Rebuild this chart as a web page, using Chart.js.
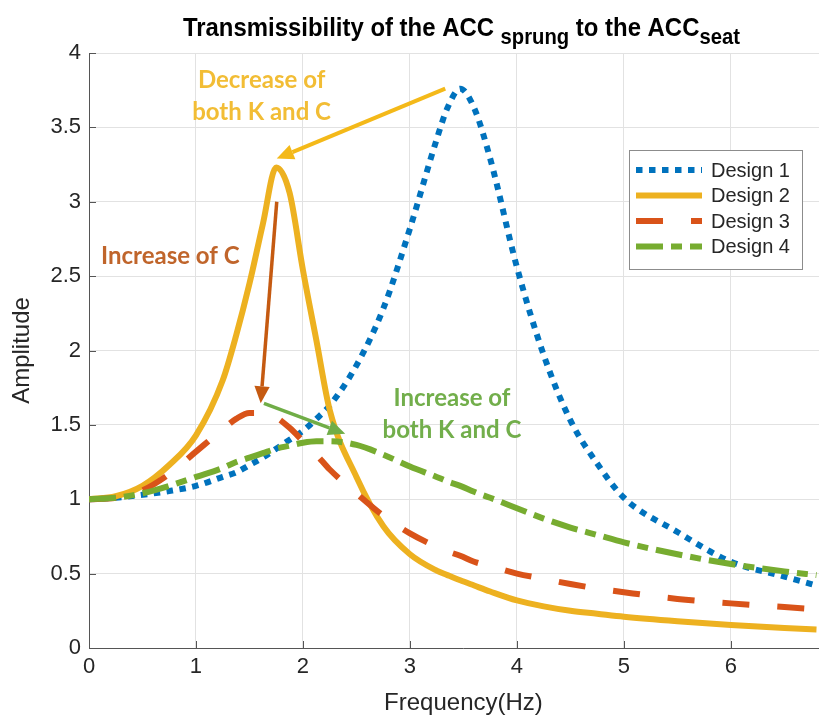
<!DOCTYPE html>
<html>
<head>
<meta charset="utf-8">
<title>Transmissibility</title>
<script src="https://cdn.jsdelivr.net/npm/chart.js@4.4.1/dist/chart.umd.min.js"></script>
<style>
    html, body { margin: 0; padding: 0; background: #fff; overflow: hidden; }
    #wrap { position: relative; width: 819px; height: 720px; overflow: hidden; }
    #chart { display: block; }
</style>
</head>
<body>
<div id="wrap"><canvas id="chart" width="850" height="720" style="width:850px;height:720px"></canvas></div>
<script>
// Frequency samples (Hz) shared by all four designs
const freq = [0, 0.25, 0.5, 0.75, 1, 1.25, 1.375, 1.5, 1.625, 1.75, 1.875, 2, 2.125, 2.25, 2.5, 2.75,
              3, 3.25, 3.35, 3.47, 3.6, 3.75, 4, 4.25, 4.5, 4.75, 5, 5.5, 6, 6.5, 6.8];

// Amplitude ratio, sprung mass acceleration -> seat acceleration
const design1 = [1.00, 1.01, 1.03, 1.055, 1.09, 1.15, 1.18, 1.23, 1.28, 1.34, 1.40, 1.46, 1.54, 1.63, 1.90, 2.28,
                 2.82, 3.42, 3.63, 3.76, 3.63, 3.29, 2.56, 1.97, 1.53, 1.24, 1.01, 0.78, 0.58, 0.48, 0.42];
const design2 = [1.00, 1.02, 1.09, 1.23, 1.43, 1.80, 2.10, 2.45, 2.85, 3.23, 3.06, 2.54, 2.07, 1.60, 1.15, 0.82,
                 0.63, 0.52, 0.49, 0.455, 0.42, 0.38, 0.32, 0.28, 0.25, 0.23, 0.21, 0.18, 0.155, 0.135, 0.125];
const design3 = [1.00, 1.01, 1.06, 1.17, 1.32, 1.47, 1.54, 1.58, 1.58, 1.55, 1.48, 1.39, 1.30, 1.20, 1.04, 0.89,
                 0.77, 0.68, 0.65, 0.62, 0.58, 0.55, 0.50, 0.465, 0.43, 0.40, 0.375, 0.33, 0.30, 0.275, 0.26];
const design4 = [1.00, 1.01, 1.04, 1.09, 1.15, 1.21, 1.25, 1.28, 1.31, 1.34, 1.36, 1.38, 1.39, 1.39, 1.365, 1.30,
                 1.22, 1.15, 1.12, 1.09, 1.05, 1.01, 0.94, 0.87, 0.81, 0.76, 0.71, 0.63, 0.565, 0.515, 0.49];

const seriesNames = ['Design 1', 'Design 2', 'Design 3', 'Design 4'];
const xTicks = [0, 1, 2, 3, 4, 5, 6, 7];
const yTicks = [0, 0.5, 1, 1.5, 2, 2.5, 3, 3.5, 4];

// Annotations in data units
const arrowNotes = [
    { from: [3.33, 3.76], to: [1.755, 3.29], color: '#F4B919', width: 4, head: 17 },
    { from: [1.755, 3.0], to: [1.605, 1.645], color: '#C55A11', width: 3.5, head: 17 },
    { from: [1.635, 1.645], to: [2.395, 1.44], color: '#70AD47', width: 3.5, head: 17 }
];
const textNotes = [
    { lines: ['Decrease of', 'both K and C'], at: [1.613, 3.818], color: '#F2BD35' },
    { lines: ['Increase of C'], at: [0.76, 2.635], color: '#C0652B' },
    { lines: ['Increase of', 'both K and C'], at: [3.393, 1.681], color: '#72AE4B' }
];

const FONT = "'Liberation Sans', Arial, sans-serif";
const toPts = ys => freq.map((f, i) => ({ x: f, y: ys[i] }));

function drawArrow(ctx, x1, y1, x2, y2, color, width, head) {
    const ang = Math.atan2(y2 - y1, x2 - x1);
    const bx = x2 - head * Math.cos(ang);
    const by = y2 - head * Math.sin(ang);
    const hw = head * 0.45;
    ctx.strokeStyle = color;
    ctx.fillStyle = color;
    ctx.lineWidth = width;
    ctx.lineCap = 'butt';
    ctx.setLineDash([]);
    ctx.beginPath();
    ctx.moveTo(x1, y1);
    ctx.lineTo(bx, by);
    ctx.stroke();
    ctx.beginPath();
    ctx.moveTo(x2, y2);
    ctx.lineTo(bx + hw * Math.sin(ang), by - hw * Math.cos(ang));
    ctx.lineTo(bx - hw * Math.sin(ang), by + hw * Math.cos(ang));
    ctx.closePath();
    ctx.fill();
}

// Inward tick marks, MATLAB style
const innerTicks = {
    id: 'innerTicks',
    beforeDatasetsDraw(chart) {
        const { ctx, chartArea: a, scales: { x, y } } = chart;
        ctx.save();
        ctx.strokeStyle = '#555';
        ctx.lineWidth = 1;
        ctx.beginPath();
        xTicks.forEach(v => {
            const px = Math.round(x.getPixelForValue(v)) + 0.5;
            ctx.moveTo(px, a.bottom);
            ctx.lineTo(px, a.bottom - 7);
        });
        yTicks.forEach(v => {
            const py = Math.round(y.getPixelForValue(v)) + 0.5;
            ctx.moveTo(a.left, py);
            ctx.lineTo(a.left + 7, py);
        });
        ctx.stroke();
        ctx.restore();
    }
};

// Arrows and coloured notes on top of the curves
const notes = {
    id: 'notes',
    afterDatasetsDraw(chart) {
        const { ctx, scales: { x, y } } = chart;
        ctx.save();
        arrowNotes.forEach(a => {
            drawArrow(ctx, x.getPixelForValue(a.from[0]), y.getPixelForValue(a.from[1]),
                      x.getPixelForValue(a.to[0]), y.getPixelForValue(a.to[1]), a.color, a.width, a.head);
        });
        ctx.font = "bold 24px Lato, 'Open Sans', sans-serif";
        ctx.textAlign = 'center';
        ctx.textBaseline = 'middle';
        textNotes.forEach(t => {
            ctx.fillStyle = t.color;
            const cx = x.getPixelForValue(t.at[0]);
            const cy = y.getPixelForValue(t.at[1]);
            t.lines.forEach((line, i) => ctx.fillText(line, cx, cy + i * 32));
        });
        ctx.restore();
    }
};

// Title with subscripts and boxed legend
const frame = {
    id: 'frame',
    afterDraw(chart) {
        const { ctx, chartArea: a } = chart;
        ctx.save();
        const parts = [
            { t: 'Transmissibility of the ACC ', sub: false },
            { t: 'sprung', sub: true },
            { t: ' to the ACC', sub: false },
            { t: 'seat', sub: true }
        ];
        const mainFont = `bold 26px ${FONT}`;
        const subFont = `bold 22px ${FONT}`;
        const squeeze = 0.92;
        let total = 0;
        parts.forEach(p => {
            ctx.font = p.sub ? subFont : mainFont;
            p.w = ctx.measureText(p.t).width * squeeze;
            total += p.w;
        });
        let tx = (a.left + a.right) / 2 - 2 - total / 2;
        ctx.fillStyle = '#000';
        ctx.textAlign = 'left';
        ctx.textBaseline = 'alphabetic';
        parts.forEach(p => {
            ctx.font = p.sub ? subFont : mainFont;
            ctx.save();
            ctx.translate(tx, p.sub ? 44 : 36);
            ctx.scale(squeeze, 1);
            ctx.fillText(p.t, 0, 0);
            ctx.restore();
            tx += p.w;
        });

        // legend box
        const lx = 629, ly = 150, lw = 173, lh = 119;
        ctx.fillStyle = '#fff';
        ctx.fillRect(lx, ly, lw, lh);
        ctx.strokeStyle = '#8c8c8c';
        ctx.lineWidth = 1;
        ctx.strokeRect(lx + 0.5, ly + 0.5, lw, lh);
        ctx.font = `20px ${FONT}`;
        ctx.textBaseline = 'middle';
        chart.data.datasets.forEach((ds, i) => {
            const ry = ly + 20 + i * 25.5;
            ctx.strokeStyle = ds.borderColor;
            ctx.lineWidth = ds.borderWidth;
            ctx.lineCap = 'butt';
            ctx.setLineDash(ds.borderDash || []);
            ctx.beginPath();
            ctx.moveTo(lx + 7, ry);
            ctx.lineTo(lx + 73, ry);
            ctx.stroke();
            ctx.setLineDash([]);
            ctx.fillStyle = '#262626';
            ctx.fillText(ds.label, lx + 82, ry + 1);
        });
        ctx.restore();
    }
};

const tickFont = { family: FONT, size: 22 };

new Chart(document.getElementById('chart'), {
    type: 'line',
    data: {
        datasets: [
            { label: seriesNames[0], data: toPts(design1), borderColor: '#0072BD', borderWidth: 6,
              borderDash: [6.5, 6.5], order: 4 },
            { label: seriesNames[1], data: toPts(design2), borderColor: '#EDB120', borderWidth: 6, order: 3 },
            { label: seriesNames[2], data: toPts(design3), borderColor: '#D95319', borderWidth: 6,
              borderDash: [27, 28], order: 2 },
            { label: seriesNames[3], data: toPts(design4), borderColor: '#77AC30', borderWidth: 6,
              borderDash: [27, 8, 11, 8], order: 1 }
        ]
    },
    options: {
        responsive: false,
        animation: false,
        events: [],
        layout: { padding: { top: 53, right: 6, left: 0, bottom: 0 } },
        elements: {
            point: { radius: 0 },
            line: { cubicInterpolationMode: 'monotone', borderCapStyle: 'butt', fill: false }
        },
        plugins: {
            legend: { display: false },
            title: { display: false },
            tooltip: { enabled: false }
        },
        scales: {
            x: {
                type: 'linear',
                min: 0,
                max: 7,
                afterFit: s => { s.height = 72; },
                afterBuildTicks: s => { s.ticks = xTicks.map(v => ({ value: v })); },
                ticks: { color: '#262626', font: tickFont, padding: 6, maxRotation: 0,
                         callback: v => String(v) },
                grid: { color: '#e2e2e2', drawTicks: false },
                border: { color: '#555', width: 1 },
                title: {
                    display: true, text: 'Frequency(Hz)', color: '#262626',
                    font: { family: FONT, size: 24 }, padding: { top: 0, bottom: 2 }
                }
            },
            y: {
                min: 0,
                max: 4,
                afterFit: s => { s.width = 89; },
                afterBuildTicks: s => { s.ticks = yTicks.map(v => ({ value: v })); },
                ticks: { color: '#262626', font: tickFont, padding: 8, callback: v => String(v) },
                grid: { color: '#e2e2e2', drawTicks: false },
                border: { color: '#555', width: 1 },
                title: {
                    display: true, text: 'Amplitude', color: '#262626',
                    font: { family: FONT, size: 24 }, padding: { top: 8, bottom: 0 }
                }
            }
        }
    },
    plugins: [innerTicks, notes, frame]
});
</script>
</body>
</html>
